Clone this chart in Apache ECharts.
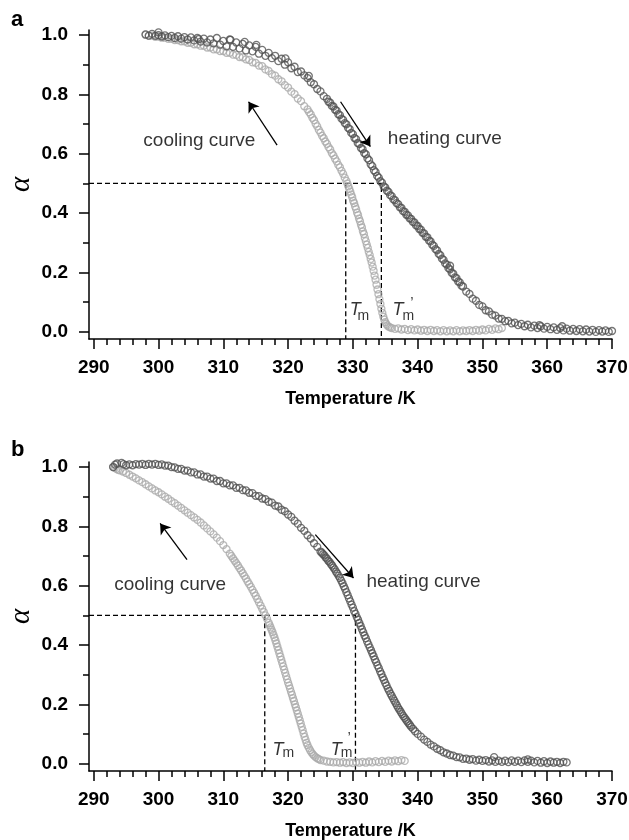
<!DOCTYPE html>
<html><head><meta charset="utf-8">
<script src="https://cdn.jsdelivr.net/npm/echarts@6/dist/echarts.min.js"></script>
<style>html,body{margin:0;padding:0;background:#fff}#c{width:629px;height:840px}</style>
</head><body><div id="c"></div>
<script>
// ---------- axis / tick data ----------
const xTicks = [290,300,310,320,330,340,350,360,370];
const xMinorTicks = [292,294,296,298,302,304,306,308,312,314,316,318,322,324,326,328,332,334,336,338,342,344,346,348,352,354,356,358,362,364,366,368];
const yTicks = [0,0.2,0.4,0.6,0.8,1.0];
const yMinorTicks = [0.1,0.3,0.5,0.7,0.9];
const xRange = [289.27, 370];
const yRange = [-0.025, 1.017];
const halfLevel = 0.5;

// ---------- panel a ----------
const tmA = 328.9, tmPrimeA = 334.4;
const heatingA = [
[298,1.002],[298.5,0.998],[299,1.004],[299.5,0.997],[300,1.000],[300.5,0.995],[301,0.999],[301.5,0.993],[302,0.997],[302.5,0.990],
[303,0.996],[303.5,0.988],[304,0.993],[304.5,0.985],[305,0.992],[305.5,0.982],[306,0.990],[306.5,0.978],[307,0.988],[307.5,0.975],
[308,0.985],[308.5,0.972],[309,0.990],[309.5,0.968],[310,0.980],[310.5,0.962],[311,0.985],[311.5,0.960],[312,0.975],[312.5,0.955],
[313,0.970],[313.5,0.948],[314,0.965],[314.5,0.945],[315,0.960],[315.5,0.937],[316,0.950],[316.5,0.930],[317,0.940],[317.5,0.922],
[318,0.930],[318.5,0.912],[319,0.920],[319.5,0.900],[320,0.908],[320.5,0.888],[321,0.893],[321.5,0.875],[322,0.877],
[322.5,0.864],[323,0.855],[323.5,0.841],[324,0.834],[324.5,0.818],[325,0.810],[325.5,0.794],[326,0.785],
[326.25,0.775],[326.5,0.772],[326.75,0.761],[327,0.759],[327.25,0.748],[327.5,0.745],[327.75,0.733],[328,0.730],[328.25,0.718],[328.5,0.714],
[328.75,0.703],[329,0.699],[329.25,0.687],[329.5,0.683],[329.75,0.670],[330,0.666],[330.25,0.653],[330.5,0.649],[330.75,0.636],[331,0.632],
[331.25,0.619],[331.5,0.615],[331.75,0.602],[332,0.598],[332.25,0.584],[332.5,0.578],[332.75,0.564],[333,0.558],[333.25,0.544],[333.5,0.538],
[333.75,0.525],[334,0.519],[334.25,0.507],[334.5,0.502],[334.75,0.490],[335,0.486],[335.25,0.475],[335.5,0.471],[335.75,0.460],[336,0.457],
[336.25,0.446],[336.5,0.443],[336.75,0.433],[337,0.430],[337.25,0.419],[337.5,0.417],[337.75,0.406],[338,0.404],[338.25,0.394],[338.5,0.392],
[338.75,0.382],[339,0.380],[339.25,0.370],[339.5,0.368],[339.75,0.358],[340,0.356],[340.25,0.346],[340.5,0.344],[340.75,0.333],[341,0.331],
[341.25,0.320],[341.5,0.318],[341.75,0.307],[342,0.304],[342.25,0.293],[342.5,0.289],[342.75,0.278],[343,0.274],[343.25,0.262],[343.5,0.258],
[343.75,0.246],[344,0.242],[344.25,0.230],[344.5,0.226],[344.75,0.214],[345,0.210],[345.25,0.198],[345.5,0.195],[345.75,0.183],[346,0.180],
[346.25,0.169],[346.5,0.166],[346.75,0.155],[347,0.152],
[347.5,0.135],[348,0.127],[348.5,0.111],[349,0.104],[349.5,0.090],[350,0.085],[350.5,0.072],[351,0.068],[351.5,0.057],[352,0.054],
[352.5,0.044],[353,0.043],[353.5,0.035],[354,0.036],[354.5,0.028],[355,0.030],[355.5,0.022],[356,0.026],[356.5,0.018],[357,0.023],
[357.5,0.014],[358,0.020],[358.5,0.012],[359,0.018],[359.5,0.010],[360,0.016],[360.5,0.008],[361,0.014],[361.5,0.006],[362,0.012],
[362.5,0.004],[363,0.010],[363.5,0.003],[364,0.009],[364.5,0.002],[365,0.008],[365.5,0.001],[366,0.007],[366.5,0.000],[367,0.006],
[367.5,-0.001],[368,0.005],[368.5,0.000],[369,0.004],[369.5,-0.001],[370,0.002],
[300,1.009],[306.2,0.986],[311.1,0.984],[313.3,0.977],[315.1,0.967],[319.6,0.921],[323.2,0.862],[345,0.222],[358.8,0.022],[362.3,0.018]
];
const coolingA = [
[298,1.001],[298.5,0.997],[299,0.998],[299.5,0.994],[300,0.995],[300.5,0.991],[301,0.991],[301.5,0.987],[302,0.987],[302.5,0.983],
[303,0.983],[303.5,0.979],[304,0.979],[304.5,0.974],[305,0.974],[305.5,0.969],[306,0.969],[306.5,0.964],[307,0.964],[307.5,0.958],
[308,0.958],[308.5,0.952],[309,0.952],[309.5,0.946],[310,0.946],[310.5,0.940],[311,0.940],[311.5,0.934],[312,0.933],[312.5,0.926],
[313,0.925],[313.5,0.918],[314,0.916],[314.5,0.908],[315,0.906],[315.5,0.897],[316,0.895],[316.5,0.884],[317,0.879],[317.5,0.868],
[318,0.863],[318.5,0.851],[319,0.844],[319.5,0.831],[320,0.823],[320.5,0.809],[321,0.801],[321.5,0.786],[322,0.777],[322.5,0.760],[323,0.749],
[323.25,0.740],[323.5,0.732],[323.75,0.721],[324,0.713],[324.25,0.701],[324.5,0.692],[324.75,0.680],[325,0.671],[325.25,0.660],[325.5,0.652],
[325.75,0.641],[326,0.633],[326.25,0.622],[326.5,0.614],[326.75,0.602],[327,0.594],[327.25,0.583],[327.5,0.574],[327.75,0.562],[328,0.554],
[328.25,0.542],[328.5,0.532],[328.75,0.519],[329,0.508],
[329.15,0.499],[329.3,0.490],[329.45,0.481],[329.6,0.472],[329.75,0.462],[329.9,0.453],[330.05,0.441],[330.2,0.433],[330.35,0.422],[330.5,0.413],
[330.65,0.401],[330.8,0.393],[330.95,0.381],[331.1,0.372],[331.25,0.360],[331.4,0.351],[331.55,0.338],[331.7,0.329],[331.85,0.316],[332,0.305],
[332.15,0.293],[332.3,0.282],[332.45,0.269],[332.6,0.258],[332.75,0.245],[332.9,0.233],[333.05,0.219],[333.2,0.205],[333.35,0.189],[333.5,0.175],
[333.65,0.158],[333.8,0.142],[333.95,0.126],[334.1,0.109],[334.25,0.093],[334.4,0.077],[334.55,0.063],[334.7,0.050],[334.85,0.040],[335,0.032],
[335.15,0.026],[335.3,0.021],[335.5,0.017],[335.75,0.014],
[336,0.012],[336.5,0.009],[337,0.011],[337.5,0.007],[338,0.009],[338.5,0.005],[339,0.008],[339.5,0.004],[340,0.007],[340.5,0.003],
[341,0.006],[341.5,0.002],[342,0.006],[342.5,0.002],[343,0.005],[343.5,0.001],[344,0.005],[344.5,0.001],[345,0.004],[345.5,0.001],
[346,0.005],[346.5,0.001],[347,0.004],[347.5,0.002],[348,0.005],[348.5,0.002],[349,0.006],[349.5,0.003],[350,0.007],[350.5,0.004],
[351,0.009],[351.5,0.006],[352,0.011],[352.5,0.008],[353,0.012]
];
const textsA = [
  {text:'cooling curve', at:[306.3,0.643]},
  {text:'heating curve', at:[344.2,0.649]}
];
const arrowsA = [
  [[318.3,0.629],[313.9,0.775]],
  [[328.1,0.775],[332.7,0.624]]
];
const tmLabelsA = [
  {text:'T', kind:'t', at:[329.46,0.073]},
  {text:'m', kind:'m', at:[330.65,0.051]},
  {text:'T', kind:'t', at:[336.06,0.073]},
  {text:'m', kind:'m', at:[337.6,0.051]},
  {text:'\u2019', kind:'p', at:[338.8,0.097]}
];

// ---------- panel b ----------
const tmB = 316.4, tmPrimeB = 330.4;
const heatingB = [
[293,1.000],[293.3,1.008],[293.6,1.012],[294,1.018],[294.3,1.014],[294.6,1.010],[295,1.006],[295.5,1.009],[296,1.006],[296.5,1.010],
[297,1.008],[297.5,1.011],[298,1.007],[298.5,1.011],[299,1.008],[299.5,1.011],[300,1.007],[300.5,1.009],[301,1.005],[301.5,1.005],
[302,1.000],[302.5,0.999],[303,0.994],[303.5,0.994],[304,0.988],[304.5,0.988],[305,0.982],[305.5,0.982],[306,0.975],[306.5,0.975],
[307,0.968],[307.5,0.968],[308,0.961],[308.5,0.961],[309,0.953],[309.5,0.953],[310,0.945],[310.5,0.945],[311,0.938],[311.5,0.938],
[312,0.930],[312.5,0.930],[313,0.922],[313.5,0.921],[314,0.913],[314.5,0.912],[315,0.903],[315.5,0.902],[316,0.894],[316.5,0.892],
[317,0.883],[317.5,0.880],[318,0.870],[318.5,0.867],[319,0.856],[319.5,0.851],[320,0.840],[320.5,0.832],[321,0.819],[321.5,0.809],
[322,0.795],[322.5,0.785],[323,0.770],[323.5,0.759],[324,0.743],[324.5,0.731],[325,0.715],
[325.2,0.711],[325.4,0.706],[325.6,0.702],[325.8,0.695],[326,0.691],[326.2,0.684],[326.4,0.680],[326.6,0.673],[326.8,0.668],[327,0.661],
[327.2,0.655],[327.4,0.647],[327.6,0.641],[327.8,0.633],[328,0.626],[328.2,0.617],[328.4,0.608],[328.6,0.598],[328.8,0.589],[329,0.578],
[329.2,0.568],[329.4,0.557],[329.6,0.547],[329.8,0.536],[330,0.526],[330.2,0.514],[330.4,0.505],[330.6,0.494],[330.8,0.485],[331,0.474],
[331.2,0.464],[331.4,0.453],[331.6,0.443],[331.8,0.432],[332,0.423],[332.2,0.412],[332.4,0.402],[332.6,0.392],[332.8,0.382],[333,0.372],
[333.2,0.362],[333.4,0.351],[333.6,0.342],[333.8,0.331],[334,0.322],[334.2,0.311],[334.4,0.302],[334.6,0.291],[334.8,0.282],[335,0.272],
[335.2,0.263],[335.4,0.253],[335.6,0.245],[335.8,0.236],[336,0.228],[336.2,0.220],[336.4,0.212],[336.6,0.204],[336.8,0.196],[337,0.188],
[337.2,0.181],[337.4,0.174],[337.6,0.167],[337.8,0.160],[338,0.154],[338.2,0.148],[338.4,0.142],[338.6,0.136],[338.8,0.130],[339,0.124],
[339.3,0.117],[339.6,0.109],[340,0.100],
[340.5,0.091],[341,0.081],[341.5,0.073],[342,0.064],[342.5,0.058],[343,0.050],[343.5,0.045],[344,0.038],[344.5,0.034],[345,0.029],
[345.5,0.027],[346,0.022],[346.5,0.021],[347,0.016],[347.5,0.017],[348,0.013],[348.5,0.015],[349,0.010],[349.5,0.013],[350,0.009],
[350.5,0.012],[351,0.007],[351.5,0.011],[352,0.006],[352.5,0.010],[353,0.006],[353.5,0.010],[354,0.005],[354.5,0.011],[355,0.006],
[355.5,0.010],[356,0.005],[356.5,0.011],[357,0.006],[357.5,0.010],[358,0.004],[358.5,0.009],[359,0.003],[359.5,0.008],[360,0.002],
[360.5,0.007],[361,0.003],[361.5,0.006],[362,0.002],[362.5,0.006],[363,0.004],
[351.8,0.022],[357,0.014]
];
const coolingB = [
[293,1.000],[293.25,0.997],[293.5,0.994],[293.75,0.991],[294,0.989],[294.5,0.985],[295,0.980],[295.5,0.974],[296,0.968],[296.5,0.962],
[297,0.955],[297.5,0.949],[298,0.942],[298.5,0.935],[299,0.928],[299.5,0.921],[300,0.915],[300.5,0.908],[301,0.900],[301.5,0.893],
[302,0.885],[302.5,0.878],[303,0.870],[303.5,0.862],[304,0.854],[304.5,0.846],[305,0.838],[305.5,0.830],[306,0.822],[306.5,0.813],
[307,0.803],[307.5,0.793],[308,0.783],[308.5,0.773],[309,0.762],[309.5,0.750],[310,0.737],[310.5,0.723],[311,0.708],[311.25,0.700],
[311.5,0.692],[311.75,0.684],[312,0.676],[312.25,0.668],[312.5,0.659],[312.75,0.651],[313,0.642],[313.25,0.633],[313.5,0.624],[313.75,0.614],
[314,0.605],[314.25,0.596],[314.5,0.586],[314.75,0.576],[315,0.566],[315.25,0.555],[315.5,0.544],[315.75,0.533],[316,0.522],[316.25,0.511],
[316.5,0.500],[316.75,0.488],[317,0.475],
[317.15,0.467],[317.3,0.459],[317.45,0.451],[317.6,0.443],[317.75,0.434],[317.9,0.425],[318.05,0.415],[318.2,0.405],[318.35,0.394],[318.5,0.383],
[318.65,0.372],[318.8,0.361],[318.95,0.350],[319.1,0.339],[319.25,0.328],[319.4,0.317],[319.55,0.306],[319.7,0.295],[319.85,0.284],[320,0.273],
[320.15,0.263],[320.3,0.253],[320.45,0.242],[320.6,0.232],[320.75,0.221],[320.9,0.211],[321.05,0.200],[321.2,0.190],[321.35,0.179],[321.5,0.168],
[321.65,0.157],[321.8,0.146],[321.95,0.135],[322.1,0.124],[322.25,0.113],[322.4,0.101],[322.55,0.090],[322.7,0.080],[322.85,0.070],[323,0.062],
[323.2,0.053],[323.4,0.045],[323.6,0.038],[323.8,0.032],[324,0.027],[324.25,0.022],[324.5,0.018],[324.75,0.015],[325,0.012],
[325.5,0.010],[326,0.007],[326.5,0.006],[327,0.004],[327.5,0.005],[328,0.003],[328.5,0.005],[329,0.002],[329.5,0.004],[330,0.002],
[330.5,0.005],[331,0.003],[331.5,0.006],[332,0.003],[332.5,0.007],[333,0.004],[333.5,0.008],[334,0.005],[334.5,0.009],[335,0.006],
[335.5,0.010],[336,0.007],[336.5,0.011],[337,0.008],[337.5,0.012],[338,0.009]
];
const textsB = [
  {text:'cooling curve', at:[301.8,0.603]},
  {text:'heating curve', at:[340.9,0.614]}
];
const arrowsB = [
  [[304.4,0.688],[300.25,0.81]],
  [[324.2,0.772],[330.1,0.626]]
];
const tmLabelsB = [
  {text:'T', kind:'t', at:[317.51,0.047]},
  {text:'m', kind:'m', at:[319.06,0.034]},
  {text:'T', kind:'t', at:[326.52,0.047]},
  {text:'m', kind:'m', at:[328.07,0.034]},
  {text:'\u2019', kind:'p', at:[329.1,0.088]}
];

// ---------- styling ----------
const FONT = 'Liberation Sans, Arial, sans-serif';
const HEAT_COLOR = '#535353';
const COOL_COLOR = '#aaaaaa';
const grids = [
  {left: 89, top: 30, right: 17, height: 309, containLabel: false, outerBoundsMode: 'none'},
  {left: 89, top: 462, right: 17, height: 309, containLabel: false, outerBoundsMode: 'none'}
];

function xAxes(gi) {
  return [
    {gridIndex: gi, type: 'value', position: 'bottom', min: xRange[0], max: xRange[1],
     axisLine: {show: true, onZero: false, lineStyle: {color: '#000', width: 1.5}},
     axisTick: {show: true, customValues: xTicks, length: 10, lineStyle: {color: '#000', width: 1.5}},
     axisLabel: {show: true, customValues: xTicks, margin: 19, fontSize: 19, fontWeight: 'bold', color: '#000', fontFamily: FONT},
     splitLine: {show: false},
     name: 'Temperature /K', nameLocation: 'middle', nameGap: 51, nameMoveOverlap: false,
     nameTextStyle: {fontSize: 18, fontWeight: 'bold', color: '#000', fontFamily: FONT}},
    {gridIndex: gi, type: 'value', position: 'bottom', min: xRange[0], max: xRange[1],
     axisLine: {show: false, onZero: false},
     axisTick: {show: true, customValues: xMinorTicks, length: 6, lineStyle: {color: '#000', width: 1.5}},
     axisLabel: {show: false}, splitLine: {show: false}}
  ];
}
function yAxes(gi) {
  return [
    {gridIndex: gi, type: 'value', position: 'left', min: yRange[0], max: yRange[1],
     axisLine: {show: true, onZero: false, lineStyle: {color: '#000', width: 1.5}},
     axisTick: {show: true, customValues: yTicks, length: 10, lineStyle: {color: '#000', width: 1.5}},
     axisLabel: {show: true, customValues: yTicks, margin: 21, fontSize: 19, fontWeight: 'bold', color: '#000', fontFamily: FONT,
                 formatter: v => Number(v).toFixed(1)},
     splitLine: {show: false},
     name: 'α', nameLocation: 'middle', nameGap: 53, nameRotate: 90, nameMoveOverlap: false,
     nameTextStyle: {fontSize: 29, fontStyle: 'italic', color: '#000', fontFamily: 'Liberation Serif, DejaVu Serif, serif'}},
    {gridIndex: gi, type: 'value', position: 'left', min: yRange[0], max: yRange[1],
     axisLine: {show: false, onZero: false},
     axisTick: {show: true, customValues: yMinorTicks, length: 6, lineStyle: {color: '#000', width: 1.5}},
     axisLabel: {show: false}, splitLine: {show: false}}
  ];
}

const labelKinds = {
  t: {fontSize: 18, fontStyle: 'italic', fontFamily: FONT, color: '#000', textBorderWidth: 0},
  m: {fontSize: 14, fontFamily: FONT, color: '#000', textBorderWidth: 0},
  p: {fontSize: 15, fontFamily: FONT, color: '#000', textBorderWidth: 0}
};

function panelSeries(gi, heat, cool, tm, tmp, texts, arrows, tmLabels) {
  const ax = {xAxisIndex: gi * 2, yAxisIndex: gi * 2};
  const scatterBase = {type: 'scatter', symbol: 'circle', symbolSize: 7, silent: true, z: 2};
  return [
    Object.assign({}, ax, {type: 'line', data: [[xRange[0], halfLevel], [tmp, halfLevel], [tmp, yRange[0]]],
      symbol: 'none', silent: true, z: 1, lineStyle: {color: '#000', width: 1.3, type: [5, 3]}}),
    Object.assign({}, ax, {type: 'line', data: [[tm, halfLevel], [tm, yRange[0]]],
      symbol: 'none', silent: true, z: 1, lineStyle: {color: '#000', width: 1.3, type: [5, 3]}}),
    Object.assign({}, ax, scatterBase, {data: cool,
      itemStyle: {color: 'rgba(0,0,0,0)', borderColor: COOL_COLOR, borderWidth: 1.3}}),
    Object.assign({}, ax, scatterBase, {data: heat, z: 3,
      itemStyle: {color: 'rgba(0,0,0,0)', borderColor: HEAT_COLOR, borderWidth: 1.3}}),
    Object.assign({}, ax, {type: 'lines', coordinateSystem: 'cartesian2d', silent: true, z: 4,
      symbol: ['none', 'arrow'], symbolSize: 10,
      lineStyle: {color: '#000', width: 1.3, opacity: 1, curveness: 0},
      data: arrows.map(a => ({coords: a}))}),
    Object.assign({}, ax, {type: 'scatter', symbolSize: 1, silent: true, z: 5,
      itemStyle: {color: 'rgba(0,0,0,0)'},
      data: texts.map(t => ({value: t.at, label: {show: true, position: 'inside', formatter: t.text,
        fontSize: 19, color: '#000', fontFamily: FONT, textBorderWidth: 0}}))}),
    Object.assign({}, ax, {type: 'scatter', symbolSize: 1, silent: true, z: 5,
      itemStyle: {color: 'rgba(0,0,0,0)'},
      data: tmLabels.map(t => ({value: t.at, label: Object.assign({show: true, position: 'right', distance: 0,
        formatter: t.text}, labelKinds[t.kind])}))})
  ];
}

const chart = echarts.init(document.getElementById('c'), null, {renderer: 'canvas'});
chart.setOption({
  animation: false,
  backgroundColor: '#fff',
  title: [
    {text: 'a', left: 11, top: 9, padding: 0, textStyle: {fontSize: 22, fontWeight: 'bold', color: '#000', fontFamily: FONT}},
    {text: 'b', left: 11, top: 439, padding: 0, textStyle: {fontSize: 22, fontWeight: 'bold', color: '#000', fontFamily: FONT}}
  ],
  grid: grids,
  xAxis: xAxes(0).concat(xAxes(1)),
  yAxis: yAxes(0).concat(yAxes(1)),
  series: panelSeries(0, heatingA, coolingA, tmA, tmPrimeA, textsA, arrowsA, tmLabelsA)
    .concat(panelSeries(1, heatingB, coolingB, tmB, tmPrimeB, textsB, arrowsB, tmLabelsB))
});
</script></body></html>
